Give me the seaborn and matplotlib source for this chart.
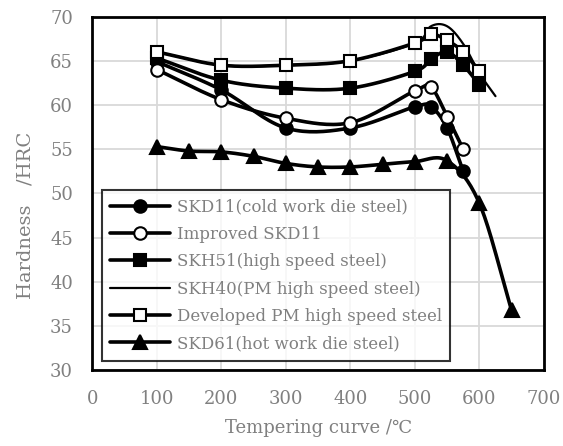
import numpy as np
import matplotlib
matplotlib.use("Agg")
import matplotlib.pyplot as plt
from matplotlib.lines import Line2D
import seaborn as sns

# ---- data ----
temps_main = [100, 200, 300, 400, 500, 525, 550, 575]
skd11 = [64.9, 61.7, 57.4, 57.4, 59.8, 59.8, 57.4, 52.5]
improved_skd11 = [64.0, 60.6, 58.5, 58.0, 61.6, 62.0, 58.7, 55.0]

temps_hss = [100, 200, 300, 400, 500, 525, 550, 575, 600]
skh51 = [65.3, 62.8, 61.9, 61.9, 63.8, 65.2, 66.0, 64.5, 62.3]
developed_pm = [66.0, 64.5, 64.5, 65.0, 67.0, 68.0, 67.3, 66.0, 63.8]

temps_skh40 = [100, 200, 300, 400, 500, 525, 550, 575, 600, 625]
skh40 = [66.0, 64.5, 64.5, 65.0, 67.0, 68.9, 68.9, 66.9, 63.6, 61.0]

temps_skd61 = [100, 150, 200, 250, 300, 350, 400, 450, 500, 550, 600, 650]
skd61 = [55.3, 54.8, 54.7, 54.2, 53.4, 53.0, 53.0, 53.3, 53.6, 53.7, 48.9, 36.8]

labels = ["SKD11(cold work die steel)", "Improved SKD11", "SKH51(high speed steel)",
          "SKH40(PM high speed steel)", "Developed PM high speed steel",
          "SKD61(hot work die steel)"]
x_ticks = [0, 100, 200, 300, 400, 500, 600, 700]
y_ticks = [30, 35, 40, 45, 50, 55, 60, 65, 70]


def smooth(x, y, n=20):
    """Catmull-Rom style smoothing of the drawn line (as Excel's smoothed lines)."""
    x = np.asarray(x, float)
    y = np.asarray(y, float)
    px = np.concatenate([[2 * x[0] - x[1]], x, [2 * x[-1] - x[-2]]])
    py = np.concatenate([[2 * y[0] - y[1]], y, [2 * y[-1] - y[-2]]])
    xs, ys = [], []
    for i in range(1, len(px) - 2):
        p0, p1, p2, p3 = (np.array([px[j], py[j]]) for j in range(i - 1, i + 3))
        c1 = p1 + (p2 - p0) / 6.0
        c2 = p2 - (p3 - p1) / 6.0
        t = np.linspace(0, 1, n)[:, None]
        b = ((1 - t) ** 3) * p1 + 3 * ((1 - t) ** 2) * t * c1 + 3 * (1 - t) * t ** 2 * c2 + t ** 3 * p2
        xs.extend(b[:, 0])
        ys.extend(b[:, 1])
    return np.array(xs), np.array(ys)


sns.set_theme(style="white")
plt.rcParams["font.family"] = ["DejaVu Serif", "DejaVu Sans"]

grey = "#808080"
fig = plt.figure(figsize=(5.63, 4.46), dpi=100)
ax = fig.add_axes([0.164, 0.1693, 0.802, 0.7937])

series = [
    (temps_main, skd11, "o", "black", 2.6),
    (temps_main, improved_skd11, "o", "white", 2.6),
    (temps_hss, skh51, "s", "black", 2.6),
    (temps_skh40, skh40, None, None, 1.6),
    (temps_hss, developed_pm, "s", "white", 2.6),
    (temps_skd61, skd61, "^", "black", 2.6),
]
msize = {"o": 9, "s": 9, "^": 10, None: 0}

z = 3
for xv, yv, mk, fc, lw in series:
    sx, sy = smooth(xv, yv)
    sns.lineplot(x=sx, y=sy, sort=False, estimator=None, color="black",
                 linewidth=lw, ax=ax, zorder=z)
    if mk is not None:
        ax.plot(xv, yv, linestyle="none", marker=mk, markersize=msize[mk],
                markerfacecolor=fc, markeredgecolor="black", markeredgewidth=1.5, zorder=z + 0.5)
    z += 1

ax.set_xlim(0, 700)
ax.set_ylim(30, 70)
ax.set_xticks(x_ticks)
ax.set_yticks(y_ticks)
ax.grid(True, color="#d9d9d9", linewidth=1.3)
ax.set_axisbelow(True)
for s in ax.spines.values():
    s.set_color("black")
    s.set_linewidth(2)
ax.tick_params(axis="x", length=0, labelsize=13, labelcolor=grey, pad=14)
ax.tick_params(axis="y", length=0, labelsize=13, labelcolor=grey, pad=14)

ax.set_xlabel("Tempering curve /℃", fontsize=13, color=grey, labelpad=8)
ax.set_ylabel("Hardness\u3000/HRC", fontsize=14, color=grey,
              family=["DejaVu Serif", "Noto Sans CJK JP"])
ax.yaxis.set_label_coords(-0.128, 0.439)

handles = []
for (xv, yv, mk, fc, lw), lab in zip(series, labels):
    handles.append(Line2D([0], [0], color="black", linewidth=lw, marker=mk,
                          markersize=msize[mk],
                          markerfacecolor=fc, markeredgecolor="black", markeredgewidth=1.5,
                          label=lab))
leg = ax.legend(handles=handles, loc="lower left", bbox_to_anchor=(0.021, 0.028),
                fontsize=12, frameon=True, fancybox=False, handlelength=3.6,
                handletextpad=0.4, borderpad=0.5, labelspacing=0.62, borderaxespad=0)
leg.get_frame().set_edgecolor("black")
leg.get_frame().set_linewidth(1.5)
leg.set_zorder(20)
for t in leg.get_texts():
    t.set_color(grey)

fig.savefig("out.png", dpi=100)
